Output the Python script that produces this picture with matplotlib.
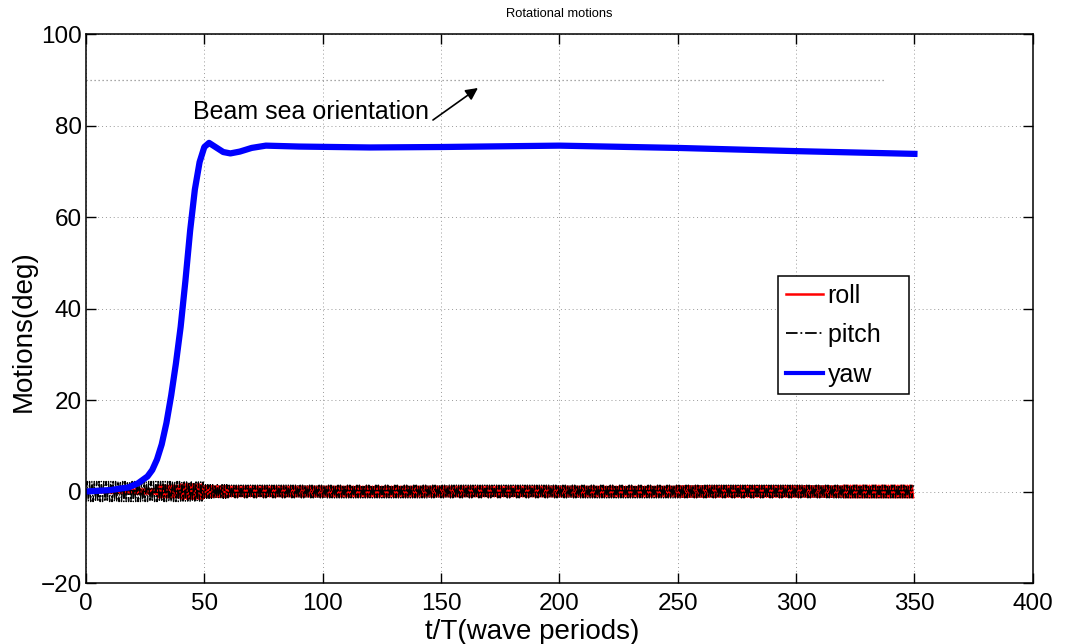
import matplotlib
matplotlib.use("Agg")
import matplotlib.pyplot as plt
import numpy as np

plt.rcParams['font.family'] = ['Liberation Sans', 'DejaVu Sans']

# yaw angle (deg) at selected wave periods
yaw_t = [0, 10, 18, 22, 26, 28, 30, 32, 34, 36, 38, 40, 42, 44, 46, 48, 50, 52,
         55, 58, 61, 65, 70, 76, 90, 120, 150, 200, 250, 300, 350]
yaw_deg = [0.0, 0.3, 0.9, 1.8, 3.3, 4.7, 7.0, 10.3, 15.0, 21.0, 28.0, 36.0,
           46.0, 57.0, 66.0, 72.0, 75.3, 76.2, 75.2, 74.2, 73.9, 74.3, 75.1,
           75.6, 75.4, 75.2, 75.3, 75.6, 75.1, 74.4, 73.8]

# oscillation amplitude (deg) of roll and pitch, one value per 10 wave periods
roll_amp = [0.3, 0.4, 0.6, 1.3, 1.6, 1.2, 1.1, 1.1, 1.1, 1.1,
            1.1, 1.1, 1.1, 1.1, 1.1, 1.1, 1.1, 1.1, 1.1, 1.1,
            1.1, 1.1, 1.1, 1.1, 1.1, 1.2, 1.2, 1.2, 1.2, 1.2,
            1.2, 1.2, 1.3, 1.3, 1.3]
pitch_amp = [2.2, 2.2, 2.2, 2.2, 2.1, 1.5, 1.4, 1.4, 1.4, 1.4,
             1.4, 1.4, 1.4, 1.4, 1.4, 1.4, 1.4, 1.4, 1.4, 1.4,
             1.4, 1.4, 1.4, 1.4, 1.4, 1.4, 1.4, 1.4, 1.4, 1.4,
             1.4, 1.4, 1.4, 1.4, 1.4]

beam_sea = 90
beam_sea_t = [0, 337]

# half-period crests and troughs of the wave-frequency response
n_half = 20
t_half = np.arange(len(roll_amp) * n_half) / 2.0
sign = np.where(np.arange(len(t_half)) % 2 == 0, 1.0, -1.0)
roll = np.repeat(roll_amp, n_half) * sign
pitch = -np.repeat(pitch_amp, n_half) * sign

fig = plt.figure(figsize=(10.68, 6.44), dpi=100)
ax = fig.add_axes([0.0805, 0.0947, 0.8865, 0.8525])

ax.plot(t_half, roll, color='red', lw=1.5, label='roll')
ax.plot(t_half, pitch, color='black', lw=1.0, ls='-.', label='pitch   ')
ax.plot(yaw_t, yaw_deg, color='blue', lw=4.5, label='yaw')

ax.plot(beam_sea_t, [beam_sea, beam_sea], color='0.55', lw=0.9, ls=(0, (1, 2.2)))
ax.text(45.2, 83.0, 'Beam sea orientation', fontsize=18, ha='left', va='center')
ax.annotate('', xy=(165.6, 88.2), xytext=(146.6, 81.2),
            arrowprops=dict(arrowstyle='-|>', color='black', lw=1.2,
                            mutation_scale=18, shrinkA=0, shrinkB=0))

ax.set_xlim(0, 400)
ax.set_ylim(-20, 100)
ax.set_xticks(np.arange(0, 401, 50))
ax.set_yticks(np.arange(-20, 101, 20))
ax.grid(True, color='0.6', ls=(0, (1, 3)), lw=0.7)
ax.tick_params(direction='in', length=7, width=1, top=True, right=True,
               labelsize=17.5)
ax.tick_params(axis='x', pad=7)
ax.tick_params(axis='y', pad=3)
for s in ax.spines.values():
    s.set_linewidth(1.1)

ax.set_xlabel('t/T(wave periods)', fontsize=20)
ax.xaxis.set_label_coords(0.471, -0.065)
ax.set_ylabel('Motions(deg)', fontsize=20)
ax.yaxis.set_label_coords(-0.052, 0.459)
ax.set_title('Rotational motions', fontsize=9.3, pad=12)

leg = ax.legend(loc='upper left', bbox_to_anchor=(0.731, 0.559),
                borderaxespad=0, fontsize=18, fancybox=False, framealpha=1,
                edgecolor='black', handlelength=1.48, labelspacing=0.62,
                handletextpad=0.2, borderpad=0.3)
leg.get_frame().set_linewidth(1.1)
for h, w in zip(leg.get_lines(), [1.8, 1.3, 3.0]):
    h.set_linewidth(w)

fig.savefig('out.png', dpi=100)
